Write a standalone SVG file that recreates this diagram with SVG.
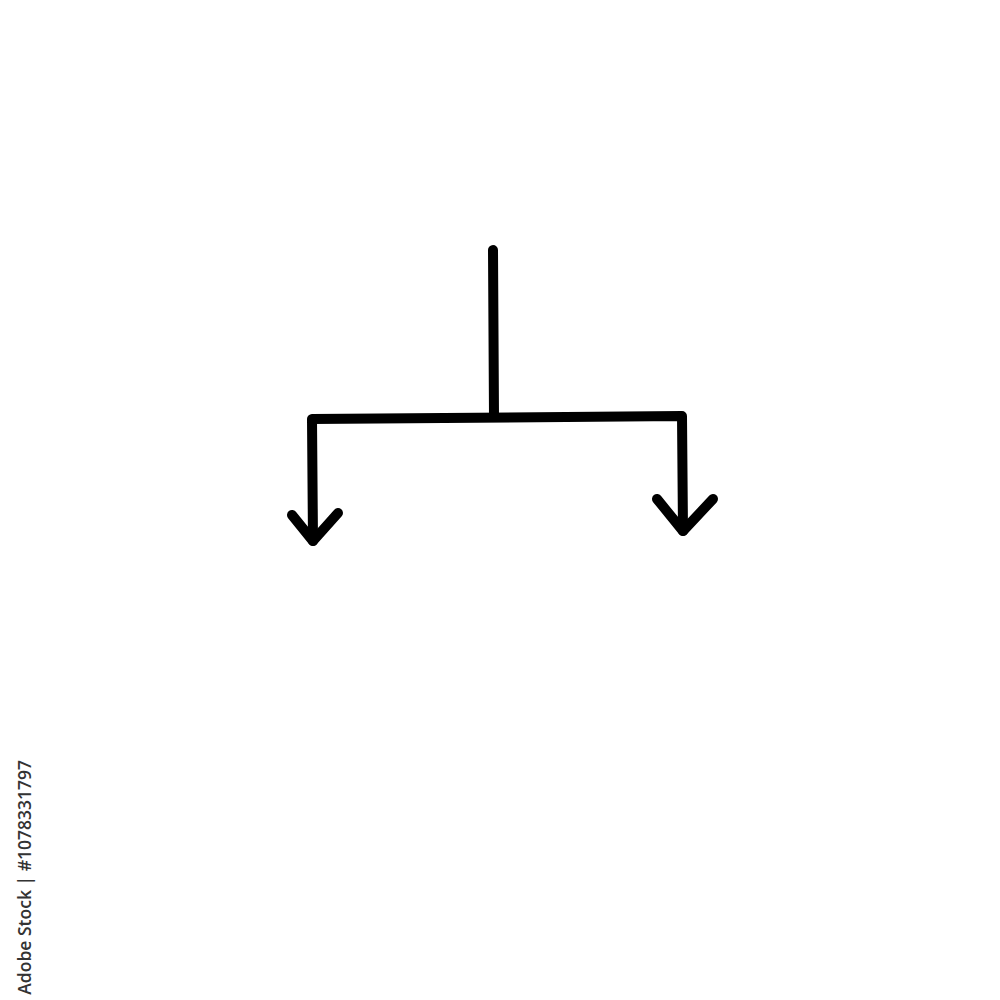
<svg xmlns="http://www.w3.org/2000/svg" width="1000" height="1000" viewBox="0 0 1000 1000">
<style>
.ln{fill:none;stroke:#000;stroke-width:10;stroke-linecap:round;stroke-linejoin:round}
.wm{font-family:"Open Sans","Liberation Sans",sans-serif;font-size:17.5px;font-weight:600;fill:#333}
</style>
<rect width="1000" height="1000" fill="#fff"/>
<g id="connectors">
<path class="ln" d="M493,250 L494,416"/>
<path class="ln" d="M313,541 L312,419 L682,416 L683,531"/>
<path class="ln" d="M292,515 L313,541 L338,513"/>
<path class="ln" d="M657,499 L683,531 L713,499"/>
</g>
<text class="wm" transform="translate(31,760) rotate(-90)" text-anchor="end">Adobe Stock | #1078331797</text>
</svg>
